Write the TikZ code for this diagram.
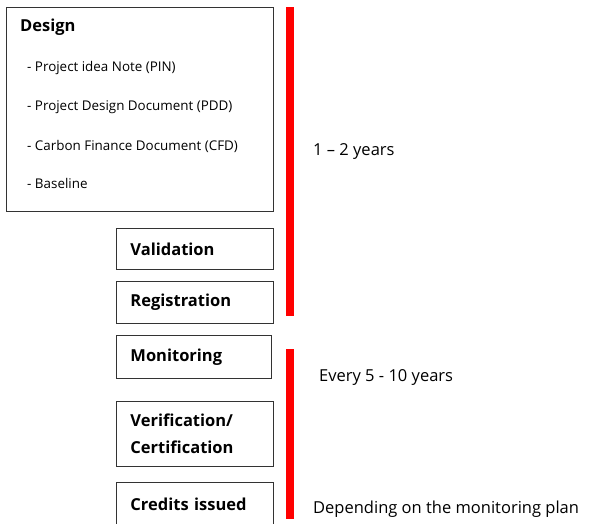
\documentclass[tikz,border=0pt]{standalone}
\usepackage{fontspec}
\setmainfont{Open Sans}
\begin{document}
\begin{tikzpicture}[x=1pt,y=-1pt,
  box/.style={draw=black!80,line width=0.9pt,anchor=north west,inner sep=0pt},
  stepbox/.style={box,text width=129pt,inner xsep=14pt,align=left,font=\bfseries\fontsize{16.5}{27}\selectfont},
  item/.style={anchor=west,inner sep=0pt,font=\fontsize{13.4}{14}\selectfont},
  lbl/.style={anchor=west,inner sep=0pt,font=\fontsize{16.5}{18}\selectfont},
  bar/.style={fill=red,draw=none,anchor=north west,minimum width=7.5pt,inner sep=0pt}]
\useasboundingbox (0,0) rectangle (589,523);
% Design box
\node[box,minimum width=267pt,minimum height=204pt] (design) at (6,7) {};
\node[item,font=\bfseries\fontsize{16.5}{18}\selectfont] (dt) at (20,27) {Design};
\node[item] (i1) at (27,68) {- Project idea Note (PIN)};
\node[item] (i2) at (27,107) {- Project Design Document (PDD)};
\node[item] (i3) at (27,146) {- Carbon Finance Document (CFD)};
\node[item] (i4) at (27,183) {- Baseline};
% step boxes
\node[stepbox,minimum height=41pt] (val) at (116,228) {Validation};
\node[stepbox,minimum height=42pt] (reg) at (116,281) {Registration};
\node[stepbox,text width=127pt,minimum height=43pt] (mon) at (116,335) {Monitoring};
\node[stepbox,minimum height=65pt] (ver) at (116,401) {Verification/\\Certification};
\node[stepbox,minimum height=44pt] (cred) at (116,482) {Credits issued};
% red bars
\node[bar,minimum height=309pt] (bar1) at (285.8,7) {};
\node[bar,minimum height=170pt] (bar2) at (285.8,349) {};
% labels
\node[lbl] (l1) at (313,152) {1 – 2 years};
\node[lbl] (l2) at (319,377) {Every 5 - 10 years};
\node[lbl] (l3) at (313,509) {Depending on the monitoring plan};
\end{tikzpicture}
\end{document}
